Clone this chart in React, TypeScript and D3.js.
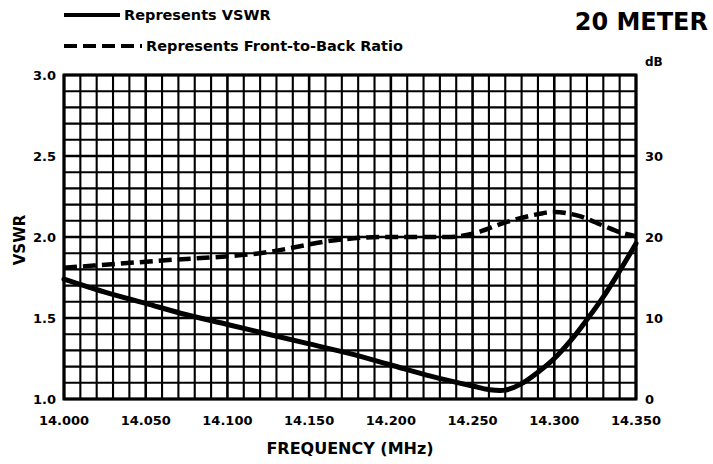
import React from "react";
import * as d3 from "d3";

const W = 713;
const H = 464;

// VSWR (solid)
const vswrFreq = [14.0, 14.025, 14.05, 14.075, 14.1, 14.125, 14.15, 14.175, 14.2, 14.225, 14.25, 14.26, 14.27, 14.28, 14.29, 14.3, 14.31, 14.32, 14.33, 14.34, 14.35];
const vswrVals = [1.74, 1.66, 1.59, 1.52, 1.46, 1.4, 1.34, 1.28, 1.21, 1.14, 1.08, 1.058, 1.055, 1.095, 1.165, 1.25, 1.36, 1.49, 1.63, 1.79, 1.96];

// Front-to-back ratio in dB (dashed)
const fbFreq = [14.0, 14.06, 14.12, 14.17, 14.195, 14.235, 14.25, 14.27, 14.285, 14.3, 14.315, 14.33, 14.34, 14.35];
const fbVals = [16.2, 17.1, 18.0, 19.7, 20.0, 20.0, 20.4, 21.8, 22.6, 23.1, 22.6, 21.4, 20.6, 20.1];

const xTicks = [14.0, 14.05, 14.1, 14.15, 14.2, 14.25, 14.3, 14.35];
const yTicks = [1.0, 1.5, 2.0, 2.5, 3.0];
const dbTicks = [0, 10, 20, 30];

const M = { left: 64, right: 636, top: 75, bottom: 399 };
const FONT = "'DejaVu Sans', sans-serif";

export default function App() {
  const x = d3.scaleLinear().domain([14.0, 14.35]).range([M.left, M.right]);
  const y = d3.scaleLinear().domain([1.0, 3.0]).range([M.bottom, M.top]);
  const yDb = d3.scaleLinear().domain([0, 40]).range([M.bottom, M.top]);

  const vGrid = d3.range(0, 36).map((i) => 14.0 + i * 0.01);
  const hGrid = d3.range(0, 21).map((i) => 1.0 + i * 0.1);

  const vswrLine = d3
    .line<number>()
    .x((_, i) => x(vswrFreq[i]))
    .y((d) => y(d))
    .curve(d3.curveCatmullRom.alpha(0.5))(vswrVals) as string;

  const fbLine = d3
    .line<number>()
    .x((_, i) => x(fbFreq[i]))
    .y((d) => yDb(d))
    .curve(d3.curveMonotoneX)(fbVals) as string;

  return (
    <svg width={W} height={H} style={{ position: "absolute", left: 0, top: 0, background: "#fff" }} fontFamily={FONT} fontWeight="bold">
      <rect x={0} y={0} width={W} height={H} fill="#fff" />
      {/* legend */}
      <line x1={64} x2={120} y1={15} y2={15} stroke="#000" strokeWidth={4} />
      <text x={124} y={20} fontSize={14.5} fill="#000">Represents VSWR</text>
      <line x1={64} x2={142} y1={46} y2={46} stroke="#000" strokeWidth={4} strokeDasharray="13,6" />
      <text x={146} y={51} fontSize={14.5} fill="#000">Represents Front-to-Back Ratio</text>
      <text x={708} y={30} fontSize={24} textAnchor="end" fill="#000">20 METER</text>

      {/* grid */}
      {vGrid.map((f, i) => (
        <line key={"v" + i} x1={x(f)} x2={x(f)} y1={M.top} y2={M.bottom} stroke="#000" strokeWidth={i % 5 === 0 ? 2.6 : 2.1} />
      ))}
      {hGrid.map((v, i) => (
        <line key={"h" + i} x1={M.left} x2={M.right} y1={y(v)} y2={y(v)} stroke="#000" strokeWidth={i % 5 === 0 ? 2.6 : 2.1} />
      ))}
      <rect x={M.left} y={M.top} width={M.right - M.left} height={M.bottom - M.top} fill="none" stroke="#000" strokeWidth={3} />

      {/* curves */}
      <path d={fbLine} fill="none" stroke="#000" strokeWidth={4.5} strokeDasharray="13,6" />
      <path d={vswrLine} fill="none" stroke="#000" strokeWidth={5} strokeLinecap="round" />

      {/* left axis labels */}
      {yTicks.map((t) => (
        <text key={"yl" + t} x={56} y={y(t) + 5} fontSize={13} textAnchor="end" fill="#000">{t.toFixed(1)}</text>
      ))}
      {/* right axis labels */}
      {dbTicks.map((t) => (
        <text key={"yr" + t} x={645} y={yDb(t) + 5} fontSize={13} textAnchor="start" fill="#000">{t}</text>
      ))}
      <text x={645} y={66} fontSize={12} fill="#000">dB</text>

      {/* x axis labels */}
      {xTicks.map((t) => (
        <text key={"x" + t} x={x(t)} y={425} fontSize={13} textAnchor="middle" fill="#000">{t.toFixed(3)}</text>
      ))}
      <text x={(M.left + M.right) / 2} y={454} fontSize={16} textAnchor="middle" fill="#000">FREQUENCY (MHz)</text>
      <text transform={`translate(25,${(M.top + M.bottom) / 2 + 3}) rotate(-90)`} fontSize={15} textAnchor="middle" fill="#000">VSWR</text>
    </svg>
  );
}
